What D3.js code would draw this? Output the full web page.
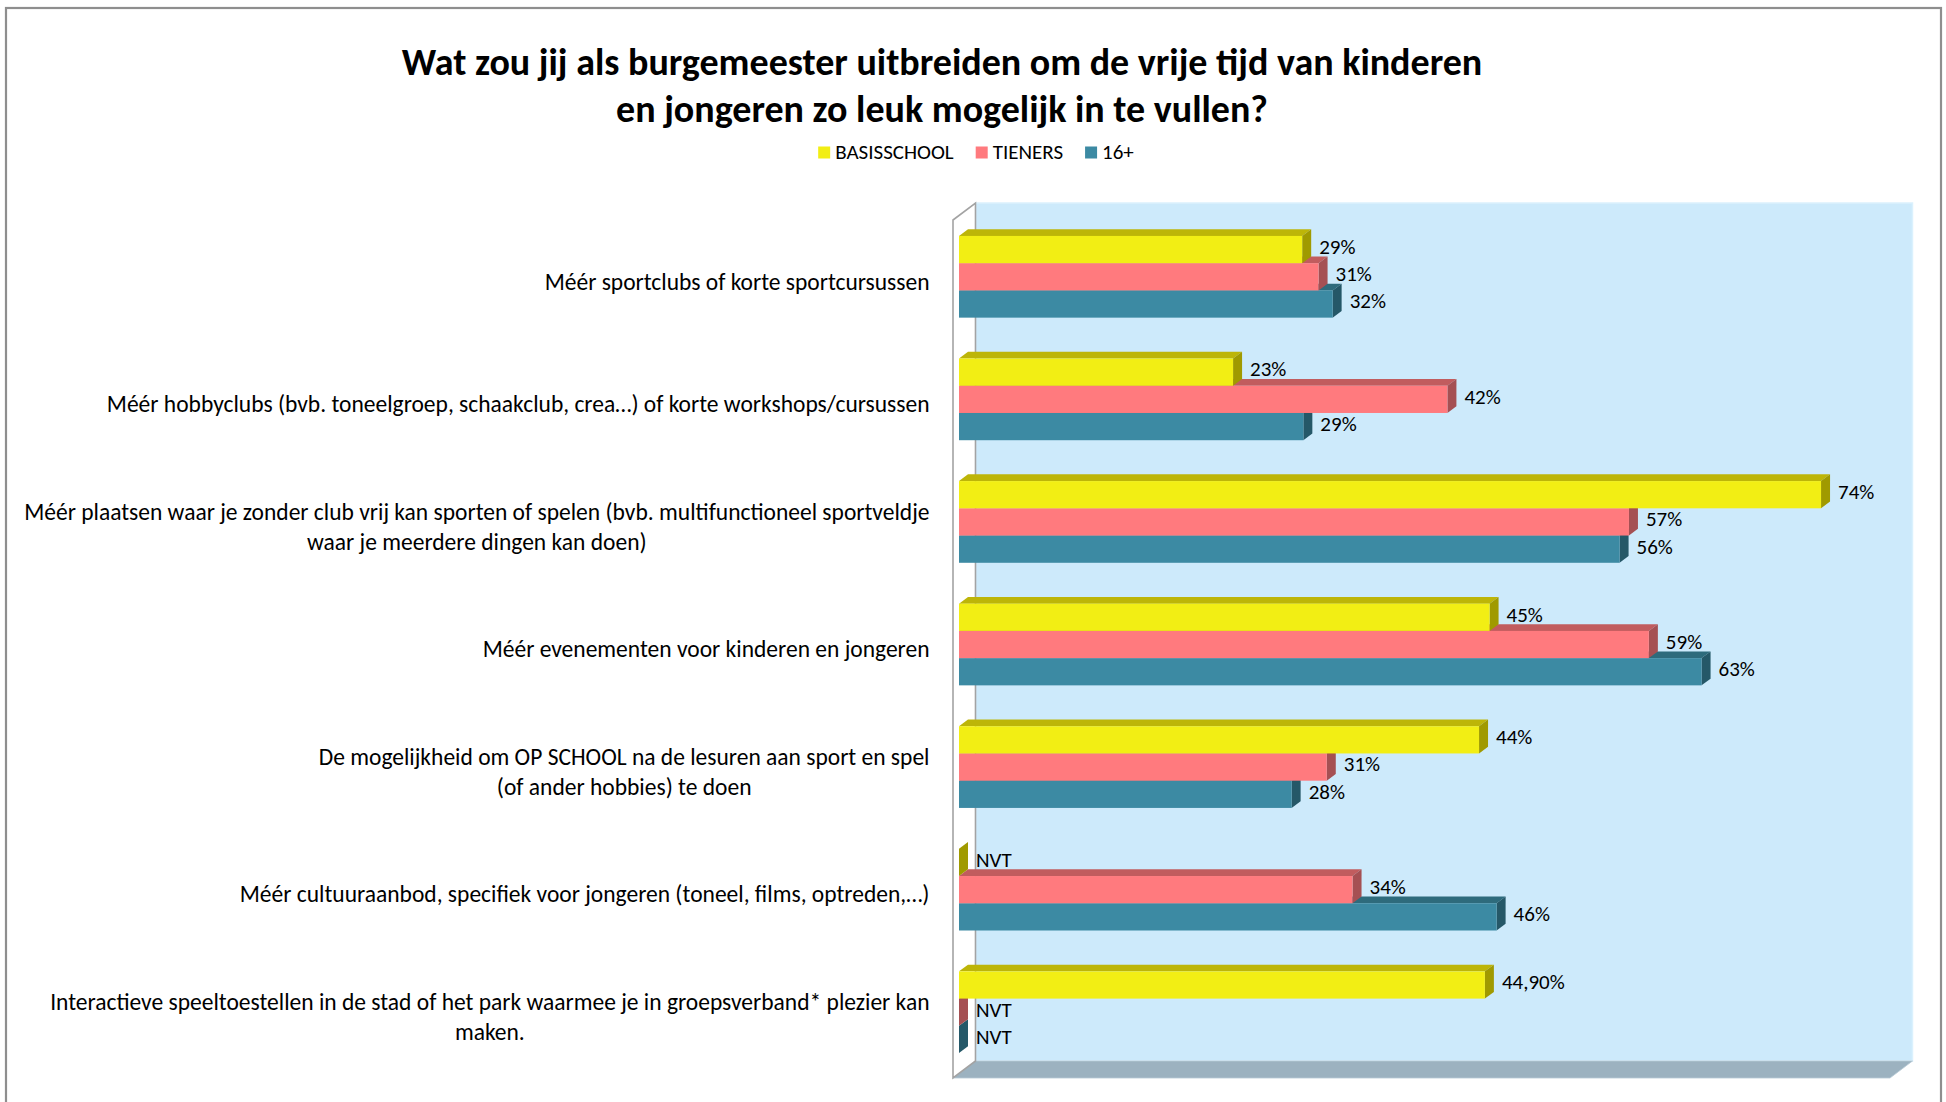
<!DOCTYPE html>
<html>
<head>
<meta charset="utf-8">
<script src="https://cdn.jsdelivr.net/npm/d3@7"></script>
<style>
  body { margin: 0; background: #fff; }
  svg { display: block; }
</style>
</head>
<body>
<div id="chart"></div>
<script>
// categories (line breaks as in the original)
const categories = [
  ['Méér sportclubs of korte sportcursussen'],
  ['Méér hobbyclubs (bvb. toneelgroep, schaakclub, crea…) of korte workshops/cursussen'],
  ['Méér plaatsen waar je zonder club vrij kan sporten of spelen (bvb. multifunctioneel sportveldje', 'waar je meerdere dingen kan doen)'],
  ['Méér evenementen voor kinderen en jongeren'],
  ['De mogelijkheid om OP SCHOOL na de lesuren aan sport en spel', '(of ander hobbies) te doen'],
  ['Méér cultuuraanbod, specifiek voor jongeren (toneel, films, optreden,…)'],
  ['Interactieve speeltoestellen in de stad of het park waarmee je in groepsverband* plezier kan', 'maken.']
];

const seriesNames = ['BASISSCHOOL', 'TIENERS', '16+'];

// values in %, null = NVT
const basisschool = [29.3, 23.4, 73.6, 45.3, 44.4, null, 44.9];
const tieners = [30.7, 41.7, 57.2, 58.9, 31.4, 33.6, null];
const zestienPlus = [31.9, 29.4, 56.4, 63.4, 28.4, 45.9, null];

// data labels as printed on the chart
const basisschoolLabels = ['29%', '23%', '74%', '45%', '44%', 'NVT', '44,90%'];
const tienersLabels = ['31%', '42%', '57%', '59%', '31%', '34%', 'NVT'];
const zestienPlusLabels = ['32%', '29%', '56%', '63%', '28%', '46%', 'NVT'];

const axisMax = 80;

const titleLines = [
  'Wat zou jij als burgemeester uitbreiden om de vrije tijd van kinderen',
  'en jongeren zo leuk mogelijk in te vullen?'
];

const W = 1946, H = 1102;
const FONT = "Carlito, Calibri, Lato, 'Open Sans', sans-serif";

const COLORS = {
  'BASISSCHOOL': { front: '#f2ee14', top: '#bdb508', side: '#a09a00' },
  'TIENERS': { front: '#ff7a7e', top: '#c15c5e', side: '#a55053' },
  '16+': { front: '#3c8aa3', top: '#2e6b7c', side: '#255868' }
};

const series = [
  { name: 'BASISSCHOOL', values: basisschool, labels: basisschoolLabels },
  { name: 'TIENERS', values: tieners, labels: tienersLabels },
  { name: '16+', values: zestienPlus, labels: zestienPlusLabels }
];

const DEPTH = { dx: 22.5, dy: -17 };     // wall depth
const BAR_OFF = { dx: 6, dy: -4.5 };     // bar front plane inside the box
const BAR_D = { dx: 9, dy: -6.7 };       // bar thickness

const svg = d3.select('#chart').append('svg')
  .attr('width', W)
  .attr('height', H)
  .style('font-family', FONT);

// outer chart border
svg.append('rect')
  .attr('x', 6).attr('y', 8)
  .attr('width', 1935).attr('height', 1200)
  .attr('fill', '#fff')
  .attr('stroke', '#8e8e8e')
  .attr('stroke-width', 2.2);

// scales: x in the bar plane, y in the front plane
const x = d3.scaleLinear().domain([0, axisMax]).range([959, 1896]);
const y = d3.scaleBand().domain(d3.range(categories.length)).range([220, 1078]);
const ySub = d3.scaleBand().domain(seriesNames)
  .range([0, y.bandwidth()])
  .paddingInner(0)
  .paddingOuter(0.75);

const fx0 = x(0) - BAR_OFF.dx, fx1 = x(axisMax) - BAR_OFF.dx;
const fy0 = y.range()[0], fy1 = y.range()[1];
const pts = a => a.map(p => p.join(',')).join(' ');

// back wall
svg.append('rect')
  .attr('x', fx0 + DEPTH.dx).attr('y', fy0 + DEPTH.dy)
  .attr('width', fx1 - fx0).attr('height', fy1 - fy0)
  .attr('fill', '#cdeafb')
  .attr('stroke', '#dbf1fd')
  .attr('stroke-width', 1.5);

// floor
svg.append('polygon')
  .attr('points', pts([
    [fx0 + DEPTH.dx, fy1 + DEPTH.dy], [fx1 + DEPTH.dx, fy1 + DEPTH.dy],
    [fx1, fy1], [fx0, fy1]
  ]))
  .attr('fill', '#9cb2c0')
  .attr('stroke', '#b7cad5')
  .attr('stroke-width', 0.8);

// left wall
svg.append('polygon')
  .attr('points', pts([
    [fx0, fy0], [fx0 + DEPTH.dx, fy0 + DEPTH.dy],
    [fx0 + DEPTH.dx, fy1 + DEPTH.dy], [fx0, fy1]
  ]))
  .attr('fill', '#fff')
  .attr('stroke', '#a3a3a3')
  .attr('stroke-width', 1.6);

// bars, drawn back-to-front so the upper bar hides the lower bar's top face
const bars = svg.append('g');
categories.forEach((_, i) => {
  [...series].reverse().forEach(s => {
    const v = s.values[i] == null ? 0 : s.values[i];
    const c = COLORS[s.name];
    const x0 = x(0), x1 = x(v);
    const y0 = y(i) + ySub(s.name) + BAR_OFF.dy;
    const h = ySub.bandwidth();
    const g = bars.append('g');
    g.append('polygon')
      .attr('points', pts([[x0, y0], [x1, y0], [x1 + BAR_D.dx, y0 + BAR_D.dy], [x0 + BAR_D.dx, y0 + BAR_D.dy]]))
      .attr('fill', c.top);
    g.append('polygon')
      .attr('points', pts([[x1, y0], [x1 + BAR_D.dx, y0 + BAR_D.dy], [x1 + BAR_D.dx, y0 + h + BAR_D.dy], [x1, y0 + h]]))
      .attr('fill', c.side);
    if (x1 > x0) {
      g.append('rect')
        .attr('x', x0).attr('y', y0)
        .attr('width', x1 - x0).attr('height', h)
        .attr('fill', c.front);
    }
  });
});

// data labels
const labels = svg.append('g')
  .style('font-size', '21px')
  .attr('fill', '#000');
series.forEach(s => {
  s.values.forEach((val, i) => {
    const v = val == null ? 0 : val;
    labels.append('text')
      .attr('x', x(v) + BAR_D.dx + 8)
      .attr('y', y(i) + ySub(s.name) + BAR_OFF.dy + ySub.bandwidth() / 2 - 3)
      .attr('dy', '0.35em')
      .text(s.labels[i]);
  });
});

// category labels, right-aligned block, lines centred within the block
const catRight = 929.5;
const lineH = 30;
categories.forEach((lines, i) => {
  const g = svg.append('g').style('font-size', '23.5px');
  const cy = y(i) + y.bandwidth() / 2;
  const texts = lines.map((ln, j) => g.append('text')
    .attr('text-anchor', 'middle')
    .attr('y', cy + (j - (lines.length - 1) / 2) * lineH)
    .attr('dy', '0.35em')
    .text(ln));
  const wMax = d3.max(texts, t => t.node().getComputedTextLength());
  texts.forEach(t => t.attr('x', catRight - wMax / 2));
});

// title
svg.append('g')
  .selectAll('text')
  .data(titleLines)
  .enter().append('text')
  .attr('x', 942)
  .attr('y', (_, i) => 74.5 + i * 47)
  .attr('text-anchor', 'middle')
  .style('font-size', '38px')
  .style('font-weight', 'bold')
  .text(d => d);

// legend
const legend = svg.append('g').style('font-size', '21px');
let lx = 0;
seriesNames.forEach(name => {
  legend.append('rect')
    .attr('x', lx).attr('y', -12.5)
    .attr('width', 12).attr('height', 12)
    .attr('fill', COLORS[name].front);
  const t = legend.append('text')
    .attr('x', lx + 17).attr('y', 0)
    .text(name);
  lx += 17 + t.node().getComputedTextLength() + 22;
});
legend.attr('transform', `translate(${976 - (lx - 22) / 2},159)`);
</script>
</body>
</html>
